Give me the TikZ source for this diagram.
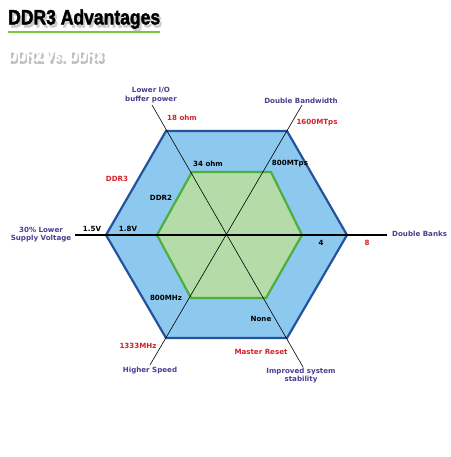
\documentclass[tikz,border=0pt]{standalone}
\usepackage{fontspec}
\usepackage{graphicx}
\setmainfont{DejaVu Sans}
\newfontfamily\titlefont{Liberation Sans}[UprightFeatures={FakeBold=2}, BoldFeatures={FakeBold=2}]
\definecolor{outfill}{HTML}{8DC8EF}
\definecolor{outline}{HTML}{24539E}
\definecolor{infill}{HTML}{B4DBA8}
\definecolor{inline}{HTML}{4DAF3C}
\definecolor{purp}{HTML}{4A3E91}
\definecolor{redl}{HTML}{D42128}
\definecolor{tgreen}{HTML}{7DC242}
\tikzset{
  lbl/.style={font=\bfseries\fontsize{7.1}{8.4}\selectfont, inner sep=0pt, align=center},
  purplbl/.style={lbl, text=purp},
  redlbl/.style={lbl, text=redl},
  blklbl/.style={lbl, text=black},
  axis/.style={black, line width=0.6pt},
  haxis/.style={black, line width=1.4pt},
}
\begin{document}
\begin{tikzpicture}[x=1pt,y=-1pt]
\fill[white] (0,0) rectangle (450,457);
\useasboundingbox (0,0) rectangle (450,457);
% title
\node[anchor=south west, inner sep=0pt, text=black!20] (titlesh) at (10,32) {\resizebox{152pt}{15pt}{\titlefont\bfseries DDR3 Advantages}};
\node[anchor=south west, inner sep=0pt, text=black] (title) at (8,29) {\resizebox{152pt}{15pt}{\titlefont\bfseries DDR3 Advantages}};
\coordinate (ul1) at (8,32);
\coordinate (ul2) at (160,32);
\draw[tgreen, line width=1.6pt] (ul1) -- (ul2);
\node[anchor=south west, inner sep=0pt, text=black!25] (subsh) at (10,64) {\resizebox{95pt}{11pt}{\titlefont\bfseries DDR2 Vs. DDR3}};
\node[anchor=south west, inner sep=0pt, text=white] (sub) at (8,61) {\resizebox{95pt}{11pt}{\titlefont\bfseries DDR2 Vs. DDR3}};
% hexagons
\draw[fill=outfill, draw=outline, line width=2.2pt, line join=miter]
  (106,235) -- (166,131) -- (287,131) -- (347,235) -- (287,338) -- (166,338) -- cycle;
\draw[fill=infill, draw=inline, line width=2.2pt, line join=miter]
  (157,235) -- (192,172) -- (271,172) -- (302,235) -- (266,298) -- (191,298) -- cycle;
% axes
\coordinate (hL) at (75,235);
\coordinate (hR) at (387,235);
\coordinate (d1a) at (152,105);
\coordinate (d1b) at (303,367);
\coordinate (d2a) at (302,105);
\coordinate (d2b) at (150,365);
\draw[haxis] (hL) -- (hR);
\draw[axis] (d1a) -- (d1b);
\draw[axis] (d2a) -- (d2b);
% labels
\node[purplbl] (lio) at (151,95) {Lower I/O\\buffer power};
\node[purplbl] (dbw) at (301,101) {Double Bandwidth};
\node[redlbl] (o18) at (182,118) {18 ohm};
\node[redlbl] (m1600) at (317,123) {1600MTps};
\node[blklbl] (o34) at (208,164) {34 ohm};
\node[blklbl] (m800) at (290,164) {800MTps};
\node[redlbl] (ddr3) at (117,179) {DDR3};
\node[blklbl] (ddr2) at (161,198) {DDR2};
\node[purplbl] (slv) at (41,234.5) {30\% Lower\\Supply Voltage};
\node[blklbl] (v15) at (92,229) {1.5V};
\node[blklbl] (v18) at (128,229) {1.8V};
\node[purplbl, anchor=west] (dbk) at (392,234) {Double Banks};
\node[blklbl] (b4) at (321,243) {4};
\node[redlbl] (b8) at (367,243) {8};
\node[blklbl] (hz800) at (166,298) {800MHz};
\node[blklbl] (none) at (261,319) {None};
\node[redlbl] (hz1333) at (138,346) {1333MHz};
\node[redlbl] (mr) at (261,352) {Master Reset};
\node[purplbl] (hs) at (150,371) {Higher Speed};
\node[purplbl] (iss) at (301,375.5) {Improved system\\stability};
\end{tikzpicture}
\end{document}
